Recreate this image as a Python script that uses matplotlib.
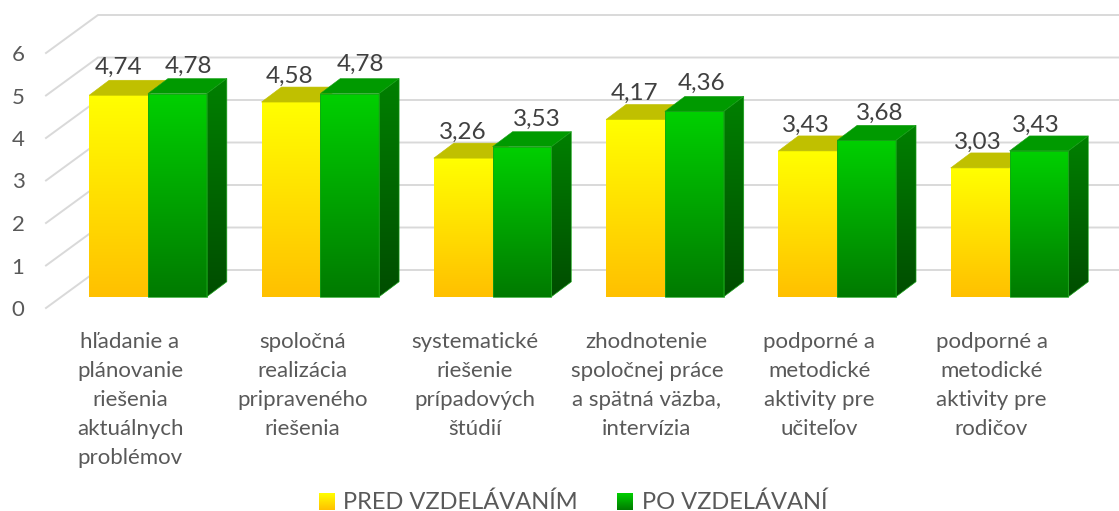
import numpy as np
import matplotlib
matplotlib.use("Agg")
import matplotlib.pyplot as plt
from matplotlib.colors import LinearSegmentedColormap
from matplotlib.patches import Polygon

# === Data ===
categories = [
    "hľadanie a\nplánovanie\nriešenia\naktuálnych\nproblémov",
    "spoločná\nrealizácia\npripraveného\nriešenia",
    "systematické\nriešenie\nprípadových\nštúdií",
    "zhodnotenie\nspoločnej práce\na spätná väzba,\nintervízia",
    "podporné a\nmetodické\naktivity pre\nučiteľov",
    "podporné a\nmetodické\naktivity pre\nrodičov",
]
pred = [4.74, 4.58, 3.26, 4.17, 3.43, 3.03]
po = [4.78, 4.78, 3.53, 4.36, 3.68, 3.43]
pred_labels = ["4,74", "4,58", "3,26", "4,17", "3,43", "3,03"]
po_labels = ["4,78", "4,78", "3,53", "4,36", "3,68", "3,43"]
y_ticks = [0, 1, 2, 3, 4, 5, 6]
series_names = ["PRED VZDELÁVANÍM", "PO VZDELÁVANÍ"]

# label nudges in pixels, the labels were moved by hand in the original
pred_nudge = [(0, 28), (-1, 26), (0, 26), (-1, 26), (-2, 26), (-2, 26)]
po_nudge = [(11, 27), (11, 29), (15, 27), (7, 28), (13, 27), (-3, 26)]

# === Layout (pixels) ===
W, H = 1119, 511
x0_px, step_px = 148.0, 172.3
y0_px, unit_px = 296.7, 42.5
bar_w = 58.8 / step_px
dep_x, dep_y = 20 / step_px, 15 / unit_px
wall_x = (46 - x0_px) / step_px
wall_y = -11.3 / unit_px
wall_dx, wall_dy = 52 / step_px, 38 / unit_px

plt.rcParams["font.family"] = ["Lato", "DejaVu Sans"]
fig = plt.figure(figsize=(W / 100, H / 100), dpi=100)
ax = fig.add_axes([0, 0, 1, 1])
xlim = (-x0_px / step_px, (W - x0_px) / step_px)
ylim = ((y0_px - H) / unit_px, y0_px / unit_px)


def grad(cols):
    return LinearSegmentedColormap.from_list("g", cols)


def fill_gradient(verts, cols, lo, hi, zorder, edge=None):
    # vertical gradient clipped to a polygon, cols go from lo up to hi
    xs = [v[0] for v in verts]
    im = ax.imshow(np.linspace(0, 1, 256).reshape(-1, 1), origin="lower", aspect="auto",
                   cmap=grad(cols), extent=(min(xs), max(xs), lo, hi), zorder=zorder,
                   vmin=0, vmax=1)
    im.set_clip_path(Polygon(verts, closed=True, transform=ax.transData))
    if edge:
        ax.add_patch(Polygon(verts, closed=True, fill=False, ec=edge, lw=0.5, zorder=zorder + 0.1))


def draw_bar(x, v, front, top_col, side=None, edge=None, z=3):
    fill_gradient([(x, 0), (x + bar_w, 0), (x + bar_w, v), (x, v)], front, 0, v, z, edge)
    ax.add_patch(Polygon([(x, v), (x + bar_w, v), (x + bar_w + dep_x, v + dep_y), (x + dep_x, v + dep_y)],
                         closed=True, fc=top_col, ec=edge or top_col, lw=0.4, zorder=z))
    if side:
        xr = x + bar_w
        fill_gradient([(xr, 0), (xr + dep_x, dep_y), (xr + dep_x, v + dep_y), (xr, v)], side, 0, v + dep_y, z, edge)


# === Walls ===
grid_col = "#d9d9d9"
for t in y_ticks:
    yf = t + wall_y
    ax.plot([wall_x, wall_x + wall_dx, xlim[1]], [yf, yf + wall_dy, yf + wall_dy],
            color=grid_col, lw=1.4, zorder=1, solid_joinstyle="miter")
    ax.text(wall_x - 28 / step_px, yf - 2 / unit_px, str(t), ha="center", va="center", fontsize=16,
            color="#595959")

# === Bars ===
yellow = ["#ffc000", "#ffff00"]
green = ["#007a00", "#00d000"]
green_side = ["#004d00", "#008000"]
for i in range(len(categories)):
    draw_bar(i - bar_w, pred[i], yellow, "#c0c000", z=3)
    draw_bar(i, po[i], green, "#009a00", side=green_side, edge="#18a018", z=4)
    ax.annotate(pred_labels[i], (i - bar_w / 2, pred[i]), xytext=pred_nudge[i], textcoords="offset pixels",
                ha="center", va="center", fontsize=17.5, color="#404040", zorder=6)
    ax.annotate(po_labels[i], (i + bar_w / 2, po[i]), xytext=po_nudge[i], textcoords="offset pixels",
                ha="center", va="center", fontsize=17.5, color="#404040", zorder=6)
    ax.text(i - 18 / step_px, (y0_px - 332) / unit_px, categories[i], ha="center", va="top",
            fontsize=16, color="#595959", linespacing=1.57)

# === Legend ===
legend_y = (y0_px - 502) / unit_px
sw_h = 8.5 / unit_px
for name, cols, sw_px, tx_px in zip(series_names, [yellow, green], [319, 617], [343, 642]):
    sx = (sw_px - x0_px) / step_px
    sx2 = (sw_px + 16 - x0_px) / step_px
    fill_gradient([(sx, legend_y - sw_h), (sx2, legend_y - sw_h), (sx2, legend_y + sw_h), (sx, legend_y + sw_h)],
                  cols, legend_y - sw_h, legend_y + sw_h, 3)
    ax.text((tx_px - x0_px) / step_px, legend_y, name, ha="left", va="center", fontsize=17, color="#595959")

ax.set_xlim(*xlim)
ax.set_ylim(*ylim)
ax.axis("off")
fig.savefig("out.png", dpi=100, facecolor="white")
